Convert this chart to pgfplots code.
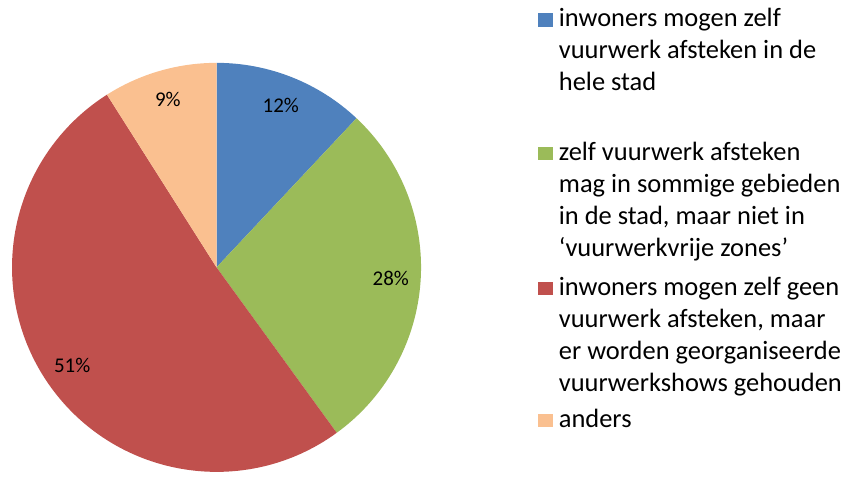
\documentclass[border=0pt]{standalone}
\usepackage{pgfplots}
\pgfplotsset{compat=1.18}
\usepackage{pgfplotstable}
\usepackage{fontspec}
\setmainfont{Carlito}
\definecolor{pieblue}{HTML}{4F81BD}
\definecolor{piegreen}{HTML}{9BBB59}
\definecolor{piered}{HTML}{C0504D}
\definecolor{pieorange}{HTML}{FAC090}
\newcommand\labelfont{\fontsize{21}{25}\selectfont}
\newcommand\legfont{\fontsize{26.5}{31}\selectfont}
\pgfplotstableread{
idx value
0 12
1 28
2 51
3 9
}\piedata
\newcommand\legline[2]{\node[anchor=base west,inner sep=0pt,font=\legfont] at (axis cs:558,#1) {#2};}
\newcommand\legbox[2]{\fill[#1] (axis cs:537.3,#2) rectangle (axis cs:552.3,#2+13.5);}
\begin{document}
\begin{tikzpicture}
\begin{axis}[x=1pt,y=1pt,xmin=0,xmax=846,ymin=0,ymax=475,
  hide axis,scale only axis,clip=false]
\path (rel axis cs:0,0) (rel axis cs:1,1);
\def\cum{0}
\pgfplotsforeachungrouped \ii/\col in {0/pieblue,1/piegreen,2/piered,3/pieorange}{%
  \pgfplotstablegetelem{\ii}{value}\of\piedata
  \let\val\pgfplotsretval
  \pgfmathsetmacro\sa{90-3.6*\cum}%
  \pgfmathsetmacro\sb{90-3.6*(\cum+\val)}%
  \pgfmathsetmacro\sm{(\sa+\sb)/2}%
  \pgfmathsetmacro\lx{215+175*cos(\sm)}%
  \pgfmathsetmacro\ly{207+175*sin(\sm)}%
  \edef\temp{\noexpand\fill[\col] (axis cs:215,207) -- ++(\sa:205pt) arc[start angle=\sa, end angle=\sb, radius=205pt] -- cycle;
    \noexpand\node[font=\noexpand\labelfont,inner sep=0pt] at (axis cs:\lx,\ly) {\val\noexpand\%};}%
  \temp
  \pgfmathsetmacro\cum{\cum+\val}%
}
% legend
\legbox{pieblue}{448.3}
\legline{448.3}{inwoners mogen zelf}
\legline{416.3}{vuurwerk afsteken in de}
\legline{384.3}{hele stad}
\legbox{piegreen}{314.3}
\legline{314.3}{zelf vuurwerk afsteken}
\legline{282.3}{mag in sommige gebieden}
\legline{250.3}{in de stad, maar niet in}
\legline{218.3}{‘vuurwerkvrije zones’}
\legbox{piered}{179}
\legline{179}{inwoners mogen zelf geen}
\legline{147}{vuurwerk afsteken, maar}
\legline{115}{er worden georganiseerde}
\legline{83}{vuurwerkshows gehouden}
\legbox{pieorange}{46.7}
\legline{46.7}{anders}
\end{axis}
\end{tikzpicture}
\end{document}
